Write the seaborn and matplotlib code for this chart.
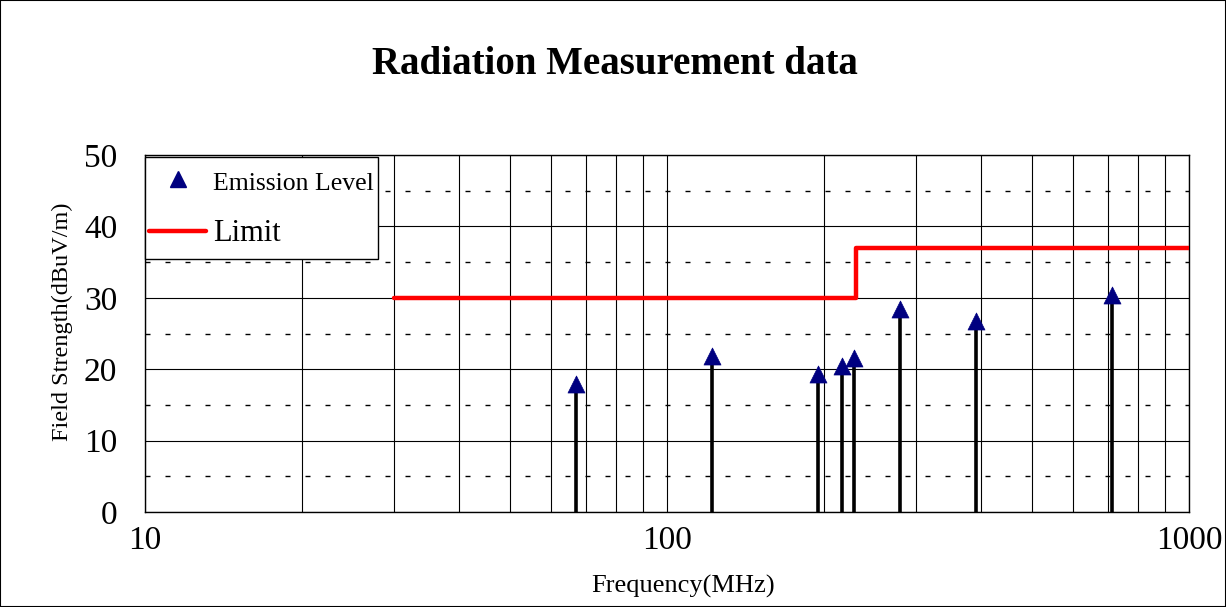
import matplotlib
matplotlib.use("Agg")
import numpy as np
import matplotlib.pyplot as plt
import seaborn as sns
import pandas as pd
from matplotlib.lines import Line2D
from matplotlib.patches import Rectangle
from matplotlib.legend_handler import HandlerLine2D

# ---- data ----
emission_freq = [66.9, 122.0, 194.5, 216.0, 228.0, 280.0, 391.0, 712.0]
emission_level = [17.9, 21.8, 19.3, 20.4, 21.6, 28.5, 26.8, 30.4]
limit_freq = [30, 230, 1000]
limit_level = [30, 37, 37]
x_ticks = [10, 100, 1000]
x_ticklabels = ["10", "100", "1000"]
y_ticks = [0, 10, 20, 30, 40, 50]
y_dashed = [5, 15, 25, 35, 45]
title = "Radiation Measurement data"

sns.set_theme(style="white")
plt.rcParams["font.family"] = ["Liberation Serif", "DejaVu Serif"]
plt.rcParams["text.color"] = "black"
plt.rcParams["axes.labelcolor"] = "black"
plt.rcParams["xtick.color"] = "black"
plt.rcParams["ytick.color"] = "black"


class ShiftedLineHandler(HandlerLine2D):
    """Legend handler that draws the sample slightly lower in its row."""

    def __init__(self, shift, **kw):
        super().__init__(**kw)
        self._shift = shift

    def create_artists(self, legend, orig_handle, xdescent, ydescent, width,
                       height, fontsize, trans):
        arts = super().create_artists(legend, orig_handle, xdescent, ydescent,
                                      width, height, fontsize, trans)
        for a in arts:
            a.set_ydata(np.asarray(a.get_ydata(), dtype=float) - self._shift)
        return arts


fig = plt.figure(figsize=(12.26, 6.07), dpi=100)
ax = fig.add_axes([145 / 1226, 1 - 512 / 607, (1189 - 145) / 1226, (512 - 155) / 607])

ax.set_xscale("log")
ax.set_xlim(10, 1000)
ax.set_ylim(0, 50)

# grid
ax.xaxis.grid(True, which="both", color="black", lw=0.8, zorder=0)
ax.yaxis.grid(True, which="major", color="black", lw=0.8, zorder=0)
for yv in y_dashed:
    ax.axhline(yv, color="black", lw=1.0, linestyle=(0, (3.6, 10.8)), zorder=0)

# stems
ax.vlines(emission_freq, 0, emission_level, color="black", lw=2.6, zorder=2)

# limit
df_lim = pd.DataFrame({"f": limit_freq, "l": limit_level})
sns.lineplot(data=df_lim, x="f", y="l", drawstyle="steps-post", color="#FF0000",
             lw=3.2, ax=ax, zorder=3, legend=False)

# markers
df_em = pd.DataFrame({"f": emission_freq, "l": emission_level})
sns.scatterplot(data=df_em, x="f", y="l", marker="^", s=150, color="#000080",
                edgecolor="#000080", linewidth=0.5, ax=ax, zorder=4, legend=False)

ax.set_xticks(x_ticks)
ax.set_xticklabels(x_ticklabels, fontsize=24)
ax.set_yticks(y_ticks)
ax.set_yticklabels([str(v) for v in y_ticks], fontsize=24)
ax.tick_params(axis="both", which="both", length=0)
ax.tick_params(axis="x", pad=10)
ax.tick_params(axis="y", pad=20)
ax.minorticks_on()
ax.tick_params(axis="y", which="minor", left=False)
ax.xaxis.set_minor_formatter(matplotlib.ticker.NullFormatter())
ax.yaxis.set_minor_locator(matplotlib.ticker.NullLocator())

for sp in ax.spines.values():
    sp.set_color("black")
    sp.set_linewidth(1.0)

ax.set_xlabel("Frequency(MHz)", fontsize=19)
ax.xaxis.set_label_coords(0.5153, -0.177)
ax.set_ylabel("Field Strength(dBuV/m)", fontsize=17.5)
ax.yaxis.set_label_coords(-0.0795, 0.532)
ax.yaxis.label.set_va("center")

fig.text(0.5015, 1 - 64 / 607, title, ha="center", va="center", fontsize=28,
         fontweight="bold")

handles = [
    Line2D([], [], marker="^", color="#000080", linestyle="none", markersize=11),
    Line2D([], [], color="#FF0000", lw=3.2),
]
leg = ax.legend(handles, ["Emission Level", "Limit"], loc="upper left",
                bbox_to_anchor=(0.0, 0.995), frameon=True, fancybox=False,
                edgecolor="black", framealpha=1, borderaxespad=0,
                prop={"size": 18},
                handler_map={Line2D: ShiftedLineHandler(3.0)},
                handlelength=2.3, handleheight=2.25, handletextpad=0.28,
                labelspacing=0.36, borderpad=0.15)
leg.get_frame().set_linewidth(1.0)
leg.set_zorder(10)
leg.get_texts()[0].set_fontsize(18.5)
leg.get_texts()[1].set_fontsize(22)

fig.patches.append(Rectangle((0, 0), 1, 1, transform=fig.transFigure, fill=False,
                             edgecolor="black", lw=1.5))

fig.savefig("out.png", dpi=100)
